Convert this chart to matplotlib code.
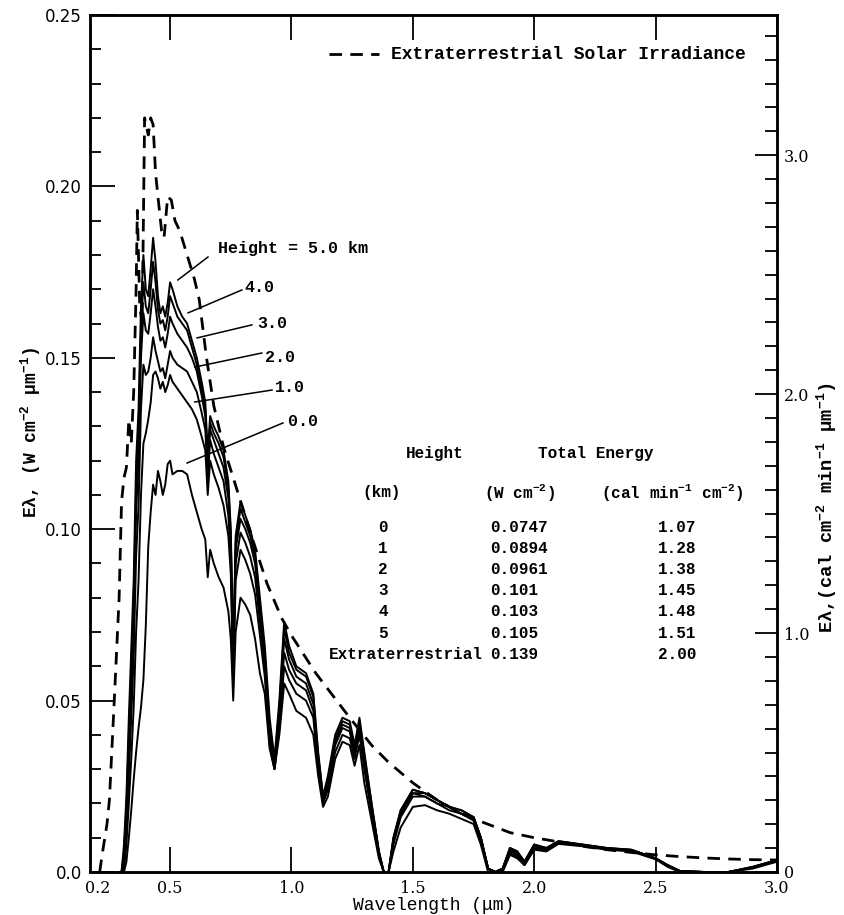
import numpy as np
import matplotlib
matplotlib.use('Agg')
import matplotlib.pyplot as plt
from matplotlib.ticker import MultipleLocator

plt.rcParams['font.family'] = ['Liberation Mono', 'DejaVu Serif']
plt.rcParams['font.weight'] = 'bold'
plt.rcParams['mathtext.fontset'] = 'custom'
plt.rcParams['mathtext.rm'] = 'Liberation Mono:bold'
plt.rcParams['mathtext.it'] = 'Liberation Mono:bold'
plt.rcParams['mathtext.default'] = 'regular'

# 1 cal cm-2 min-1 in W cm-2
CAL_IN_W = 0.0697

# extraterrestrial solar irradiance (dashed)
ext_wl = [0.21, 0.22, 0.24, 0.25, 0.27, 0.29, 0.30, 0.31, 0.32, 0.33,
          0.34, 0.35, 0.36, 0.365, 0.375, 0.385, 0.395, 0.41, 0.42, 0.43,
          0.44, 0.45, 0.465, 0.475, 0.49, 0.505, 0.52, 0.54, 0.57, 0.60,
          0.62, 0.65, 0.68, 0.72, 0.76, 0.80, 0.84, 0.90, 0.96, 1.00,
          1.10, 1.24, 1.33, 1.40, 1.50, 1.60, 1.70, 1.77, 1.90, 2.00,
          2.10, 2.20, 2.30, 2.40, 2.50, 2.60, 2.70, 2.80, 2.90, 3.00]
ext_irr = [0.0, 0.005, 0.014, 0.021, 0.05, 0.08, 0.108, 0.115, 0.118, 0.132,
           0.125, 0.14, 0.17, 0.193, 0.165, 0.16, 0.22, 0.215, 0.22, 0.218,
           0.204, 0.197, 0.187, 0.185, 0.197, 0.196, 0.19, 0.187, 0.18, 0.173,
           0.167, 0.150, 0.136, 0.124, 0.115, 0.106, 0.097, 0.084, 0.074, 0.069,
           0.058, 0.045, 0.037, 0.032, 0.026, 0.021, 0.017, 0.015, 0.0115, 0.0100,
           0.0088, 0.0075, 0.0065, 0.0057, 0.0050, 0.0045, 0.0041, 0.0038, 0.0036, 0.0035]

# wavelength grid for the curves at the ground and at altitude
wl = [0.29, 0.30, 0.31, 0.32, 0.33, 0.34, 0.35, 0.36, 0.37, 0.38,
      0.39, 0.40, 0.41, 0.42, 0.43, 0.44, 0.45, 0.46, 0.47, 0.48,
      0.49, 0.50, 0.51, 0.53, 0.55, 0.57, 0.59, 0.61, 0.63, 0.645,
      0.655, 0.665, 0.68, 0.70, 0.72, 0.74, 0.75, 0.76, 0.77, 0.79,
      0.81, 0.83, 0.85, 0.87, 0.89, 0.91, 0.93, 0.95, 0.97, 0.99,
      1.02, 1.06, 1.09, 1.11, 1.13, 1.15, 1.18, 1.21, 1.24, 1.26,
      1.28, 1.30, 1.33, 1.36, 1.38, 1.40, 1.42, 1.45, 1.50, 1.55,
      1.60, 1.65, 1.70, 1.75, 1.78, 1.81, 1.84, 1.87, 1.90, 1.93,
      1.96, 2.00, 2.05, 2.10, 2.20, 2.30, 2.40, 2.50, 2.55, 2.60,
      2.70, 2.80, 2.90, 3.00]

h5 = [0, 0, 0.008, 0.022, 0.045, 0.065, 0.085, 0.120, 0.135, 0.165,
      0.180, 0.170, 0.168, 0.176, 0.185, 0.178, 0.168, 0.163, 0.165, 0.162,
      0.166, 0.172, 0.170, 0.165, 0.162, 0.160, 0.155, 0.150, 0.143, 0.137,
      0.122, 0.133, 0.130, 0.127, 0.123, 0.114, 0.100, 0.062, 0.098, 0.108,
      0.104, 0.100, 0.094, 0.080, 0.066, 0.045, 0.033, 0.050, 0.073, 0.066,
      0.060, 0.058, 0.052, 0.035, 0.022, 0.028, 0.040, 0.045, 0.044, 0.037,
      0.045, 0.035, 0.020, 0.006, 0, 0, 0.010, 0.018, 0.024, 0.023,
      0.021, 0.019, 0.018, 0.016, 0.010, 0.001, 0, 0.001, 0.007, 0.006,
      0.003, 0.008, 0.007, 0.009, 0.008, 0.007, 0.0065, 0.004, 0.002, 0.0003,
      0, 0, 0.0015, 0.0035]

h4 = [0, 0, 0.006, 0.019, 0.040, 0.060, 0.080, 0.113, 0.128, 0.158,
      0.172, 0.165, 0.163, 0.170, 0.178, 0.172, 0.164, 0.160, 0.161, 0.158,
      0.162, 0.168, 0.166, 0.162, 0.160, 0.158, 0.153, 0.148, 0.141, 0.135,
      0.120, 0.131, 0.128, 0.125, 0.121, 0.112, 0.098, 0.061, 0.096, 0.106,
      0.102, 0.098, 0.092, 0.078, 0.064, 0.043, 0.032, 0.048, 0.071, 0.064,
      0.059, 0.057, 0.051, 0.034, 0.022, 0.027, 0.039, 0.044, 0.043, 0.036,
      0.044, 0.034, 0.020, 0.006, 0, 0, 0.010, 0.018, 0.024, 0.023,
      0.021, 0.019, 0.018, 0.016, 0.010, 0.001, 0, 0.001, 0.007, 0.006,
      0.003, 0.008, 0.007, 0.009, 0.008, 0.007, 0.0065, 0.004, 0.002, 0.0003,
      0, 0, 0.0015, 0.0035]

h3 = [0, 0, 0.004, 0.016, 0.035, 0.054, 0.073, 0.105, 0.120, 0.150,
      0.163, 0.158, 0.157, 0.163, 0.170, 0.165, 0.159, 0.155, 0.156, 0.153,
      0.157, 0.162, 0.160, 0.157, 0.155, 0.153, 0.150, 0.146, 0.139, 0.133,
      0.118, 0.129, 0.126, 0.122, 0.118, 0.109, 0.096, 0.060, 0.094, 0.103,
      0.100, 0.096, 0.090, 0.076, 0.062, 0.041, 0.031, 0.046, 0.068, 0.062,
      0.057, 0.055, 0.049, 0.033, 0.021, 0.026, 0.038, 0.043, 0.042, 0.035,
      0.043, 0.033, 0.019, 0.006, 0, 0, 0.009, 0.017, 0.023, 0.023,
      0.021, 0.019, 0.017, 0.016, 0.010, 0.001, 0, 0.001, 0.0065, 0.0055,
      0.003, 0.0078, 0.0068, 0.0088, 0.0079, 0.0069, 0.0064, 0.004, 0.002, 0.0003,
      0, 0, 0.0014, 0.0034]

h2 = [0, 0, 0.002, 0.012, 0.028, 0.045, 0.063, 0.092, 0.107, 0.135,
      0.148, 0.145, 0.146, 0.150, 0.156, 0.152, 0.149, 0.146, 0.147, 0.144,
      0.148, 0.152, 0.150, 0.148, 0.147, 0.146, 0.143, 0.140, 0.134, 0.129,
      0.115, 0.126, 0.122, 0.118, 0.114, 0.104, 0.092, 0.058, 0.090, 0.099,
      0.096, 0.092, 0.086, 0.073, 0.060, 0.039, 0.030, 0.044, 0.064, 0.059,
      0.055, 0.053, 0.047, 0.031, 0.021, 0.025, 0.037, 0.042, 0.041, 0.034,
      0.042, 0.032, 0.018, 0.005, 0, 0, 0.009, 0.017, 0.023, 0.022,
      0.020, 0.019, 0.017, 0.016, 0.010, 0.001, 0, 0.001, 0.006, 0.005,
      0.0025, 0.0075, 0.0066, 0.0086, 0.0078, 0.0068, 0.0063, 0.0039, 0.0018, 0.0002,
      0, 0, 0.0013, 0.0033]

h1 = [0, 0, 0.001, 0.008, 0.020, 0.033, 0.048, 0.070, 0.085, 0.110,
      0.125, 0.128, 0.132, 0.137, 0.145, 0.146, 0.144, 0.141, 0.143, 0.140,
      0.142, 0.145, 0.143, 0.141, 0.139, 0.137, 0.135, 0.132, 0.127, 0.123,
      0.110, 0.120, 0.116, 0.112, 0.107, 0.098, 0.087, 0.056, 0.085, 0.094,
      0.091, 0.087, 0.081, 0.069, 0.057, 0.037, 0.030, 0.042, 0.060, 0.056,
      0.052, 0.050, 0.045, 0.030, 0.020, 0.024, 0.035, 0.040, 0.039, 0.033,
      0.040, 0.030, 0.017, 0.005, 0, 0, 0.008, 0.016, 0.022, 0.022,
      0.020, 0.018, 0.017, 0.015, 0.009, 0.001, 0, 0.0005, 0.0055, 0.0045,
      0.002, 0.007, 0.0063, 0.0084, 0.0077, 0.0067, 0.0062, 0.0038, 0.0017, 0.0001,
      0, 0, 0.0012, 0.0032]

h0 = [0, 0, 0, 0.003, 0.010, 0.018, 0.027, 0.035, 0.042, 0.048,
      0.056, 0.072, 0.095, 0.105, 0.113, 0.110, 0.117, 0.114, 0.110, 0.113,
      0.119, 0.120, 0.116, 0.117, 0.117, 0.116, 0.110, 0.105, 0.100, 0.097,
      0.086, 0.094, 0.090, 0.086, 0.083, 0.076, 0.068, 0.050, 0.070, 0.080,
      0.078, 0.075, 0.068, 0.058, 0.052, 0.036, 0.030, 0.040, 0.055, 0.052,
      0.047, 0.045, 0.040, 0.028, 0.019, 0.022, 0.033, 0.038, 0.037, 0.031,
      0.037, 0.026, 0.015, 0.004, 0, 0, 0.006, 0.013, 0.019, 0.0195,
      0.018, 0.017, 0.0155, 0.014, 0.008, 0, 0, 0, 0.005, 0.004,
      0.002, 0.0065, 0.006, 0.0082, 0.0075, 0.0065, 0.006, 0.0037, 0.0015, 0,
      0, 0, 0.001, 0.003]

# total energy table
table_heights = ['0', '1', '2', '3', '4', '5', 'Extraterrestrial']
table_watts = ['0.0747', '0.0894', '0.0961', '0.101', '0.103', '0.105', '0.139']
table_cals = ['1.07', '1.28', '1.38', '1.45', '1.48', '1.51', '2.00']


def draw_table(ax):
    # total energy table in the middle right of the plot
    fs = 11.5
    ax.text(1.591, 0.1222, 'Height', fontsize=fs, ha='center', va='center')
    ax.text(2.254, 0.1222, 'Total Energy', fontsize=fs, ha='center', va='center')
    ax.text(1.373, 0.1106, '(km)', fontsize=fs, ha='center', va='center')
    ax.text(1.941, 0.1106, r'(W cm$^{-2}$)', fontsize=fs, ha='center', va='center')
    ax.text(2.567, 0.1106, r'(cal min$^{-1}$ cm$^{-2}$)', fontsize=fs, ha='center', va='center')
    dy = 0.00618
    for i, (h, w, c) in enumerate(zip(table_heights, table_watts, table_cals)):
        y = 0.1006 - i * dy
        if h.isdigit():
            ax.text(1.377, y, h, fontsize=fs, ha='center', va='center')
        else:
            ax.text(1.790, y, h, fontsize=fs, ha='right', va='center')
        ax.text(1.817, y, w, fontsize=fs, ha='left', va='center')
        ax.text(2.509, y, c, fontsize=fs, ha='left', va='center')


def main():
    fig = plt.figure(figsize=(8.45, 9.15), dpi=100)
    ax = fig.add_axes([0.1065, 0.047, 0.813, 0.9366])

    # curves
    ax.plot(ext_wl, ext_irr, color='black', lw=2.0, ls=(0, (4.5, 3.0)), zorder=3)
    for series in [h0, h1, h2, h3, h4, h5]:
        ax.plot(wl, series, color='black', lw=1.4, zorder=2)

    ax.set_xlim(0.17, 3.0)
    ax.set_ylim(0, 0.25)

    # x axis ticks
    xt = [0.2, 0.5, 1.0, 1.5, 2.0, 2.5, 3.0]
    ax.set_xticks(xt)
    ax.set_xticklabels(['0.2', '0.5', '1.0', '1.5', '2.0', '2.5', '3.0'],
                       fontsize=11.5, family='DejaVu Serif', fontweight='normal')
    ax.tick_params(axis='x', which='major', direction='in', length=18, width=1.3,
                   top=True, pad=6)
    first = ax.xaxis.get_major_ticks()[0]
    first.tick1line.set_visible(False)
    first.tick2line.set_visible(False)

    # left y axis
    ax.set_yticks([0.0, 0.05, 0.10, 0.15, 0.20, 0.25])
    ax.set_yticklabels(['0.0', '0.05', '0.10', '0.15', '0.20', '0.25'],
                       fontsize=12, family='DejaVu Sans', fontweight='normal')
    ax.yaxis.set_minor_locator(MultipleLocator(0.01))
    ax.tick_params(axis='y', which='major', direction='in', length=18, width=1.3, pad=6)
    ax.tick_params(axis='y', which='minor', direction='in', length=8, width=1.3)
    ax.tick_params(axis='y', which='both', right=False)

    for s in ax.spines.values():
        s.set_linewidth(1.8)

    # right axis in cal units
    ax2 = ax.twinx()
    ax2.set_ylim(0, 0.25 / CAL_IN_W)
    ax2.set_yticks([0, 1, 2, 3])
    ax2.set_yticklabels(['0', '1.0', '2.0', '3.0'], fontsize=11.5,
                        family='DejaVu Serif', fontweight='normal')
    ax2.yaxis.set_minor_locator(MultipleLocator(0.1))
    ax2.tick_params(axis='y', which='major', direction='in', length=16, width=1.3, pad=5)
    ax2.tick_params(axis='y', which='minor', direction='in', length=9, width=1.3)
    for s in ax2.spines.values():
        s.set_linewidth(1.8)

    # axis labels
    ax.set_xlabel('Wavelength (μm)', fontsize=13, labelpad=0)
    fig.text(0.036, 1 - 433 / 915, r'Eλ, (W cm$^{-2}$ μm$^{-1}$)',
             rotation=90, fontsize=13, ha='center', va='center')
    fig.text(0.978, 1 - 508 / 915, r'Eλ,(cal cm$^{-2}$ min$^{-1}$ μm$^{-1}$)',
             rotation=90, fontsize=13.5, ha='center', va='center')

    # legend for the dashed curve
    ax.plot([1.155, 1.36], [0.2385, 0.2385], color='black', lw=2.0, ls=(0, (4.5, 3.0)))
    ax.text(1.41, 0.2385, 'Extraterrestrial Solar Irradiance', fontsize=13,
            ha='left', va='center')

    # height labels with leader lines
    labels = [('Height = 5.0 km', (0.697, 0.182), (0.656, 0.1794), (0.532, 0.1727)),
              ('4.0', (0.808, 0.1704), (0.796, 0.1698), (0.574, 0.1631)),
              ('3.0', (0.858, 0.1601), (0.837, 0.1596), (0.611, 0.1558)),
              ('2.0', (0.891, 0.1502), (0.878, 0.1514), (0.602, 0.1473)),
              ('1.0', (0.932, 0.1412), (0.920, 0.1406), (0.602, 0.1371)),
              ('0.0', (0.985, 0.1313), (0.965, 0.1310), (0.570, 0.1193))]
    for txt, tpos, lstart, lend in labels:
        ax.text(tpos[0], tpos[1], txt, fontsize=12, ha='left', va='center')
        ax.plot([lstart[0], lend[0]], [lstart[1], lend[1]], color='black', lw=1.1)

    draw_table(ax)

    fig.savefig('out.png', dpi=100)
    plt.close(fig)


if __name__ == '__main__':
    main()
